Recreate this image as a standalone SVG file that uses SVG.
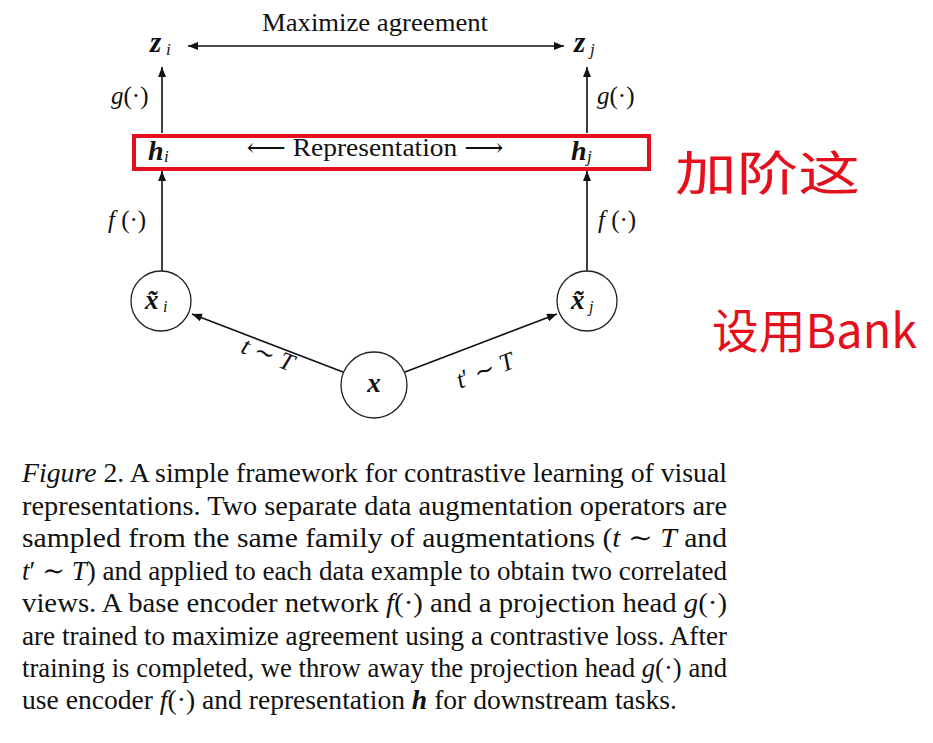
<svg xmlns="http://www.w3.org/2000/svg" width="933" height="743" viewBox="0 0 933 743">
<style>
.m{font-family:"Liberation Serif","DejaVu Serif",serif;fill:#111}
.bi{font-weight:bold;font-style:italic}
.it{font-style:italic}
.ln{stroke:#111;stroke-width:1.6;fill:none}
.nd{stroke:#222;stroke-width:1.3;fill:#fff}
.hw{font-family:"Noto Sans CJK SC","Noto Sans",sans-serif;fill:#e3101e;font-size:47px}
.cap{font-family:"Liberation Serif","DejaVu Serif",serif;fill:#111;font-size:27px}
</style>
<defs>
<marker id="ah" viewBox="0 0 10 8" refX="10" refY="4" markerWidth="10" markerHeight="8" markerUnits="userSpaceOnUse" orient="auto-start-reverse">
<path d="M0,0 L10,4 L0,8 Z" fill="#111"/>
</marker>
</defs>
<rect width="933" height="743" fill="#fff"/>

<g id="connectors">
<line class="ln" x1="188" y1="46" x2="564" y2="46" marker-start="url(#ah)" marker-end="url(#ah)"/>
<line class="ln" x1="162" y1="133" x2="162" y2="67" marker-end="url(#ah)"/>
<line class="ln" x1="587" y1="133" x2="587" y2="67" marker-end="url(#ah)"/>
<line class="ln" x1="162" y1="271" x2="162" y2="171" marker-end="url(#ah)"/>
<line class="ln" x1="587" y1="271" x2="587" y2="171" marker-end="url(#ah)"/>
<line class="ln" x1="343" y1="372" x2="192" y2="314" marker-end="url(#ah)"/>
<line class="ln" x1="405" y1="372" x2="557" y2="314" marker-end="url(#ah)"/>
<text class="m" x="111" y="104" font-size="25"><tspan class="it">g</tspan>(·)</text>
<text class="m" x="597" y="104" font-size="25"><tspan class="it">g</tspan>(·)</text>
<text class="m" x="108" y="228" font-size="25"><tspan class="it">f</tspan> (·)</text>
<text class="m" x="598" y="228" font-size="25"><tspan class="it">f</tspan> (·)</text>
<text class="m" font-size="25" transform="translate(265,362) rotate(21)" text-anchor="middle"><tspan class="it">t</tspan> ∼ <tspan class="it">T</tspan></text>
<text class="m" font-size="25" transform="translate(488,378) rotate(-21)" text-anchor="middle"><tspan class="it">t</tspan>′ ∼ <tspan class="it">T</tspan></text>
</g>

<g id="label-maximize">
<text class="m" x="375" y="31" font-size="26" text-anchor="middle" textLength="226" lengthAdjust="spacingAndGlyphs">Maximize agreement</text>
</g>

<g id="node-zi">
<text class="m bi" x="150" y="52" font-size="29">z</text>
<text class="m it" x="166" y="55" font-size="17">i</text>
</g>
<g id="node-zj">
<text class="m bi" x="574" y="52" font-size="29">z</text>
<text class="m it" x="590" y="55" font-size="17">j</text>
</g>

<g id="node-representation">
<rect x="134" y="136" width="515" height="33" fill="none" stroke="#e3101e" stroke-width="4"/>
<text class="m bi" x="148" y="160" font-size="28">h</text>
<text class="m it" x="164" y="162" font-size="17">i</text>
<text class="m bi" x="571" y="160" font-size="28">h</text>
<text class="m it" x="587" y="162" font-size="17">j</text>
<text class="m" x="375" y="156" font-size="25" text-anchor="middle" textLength="257" lengthAdjust="spacingAndGlyphs">⟵ Representation ⟶</text>
</g>

<g id="node-xi">
<circle class="nd" cx="161" cy="301" r="30"/>
<text class="m bi" x="145" y="309" font-size="27">x̃</text>
<text class="m it" x="163" y="312" font-size="16">i</text>
</g>
<g id="node-xj">
<circle class="nd" cx="587" cy="301" r="30"/>
<text class="m bi" x="571" y="309" font-size="27">x̃</text>
<text class="m it" x="589" y="312" font-size="16">j</text>
</g>
<g id="node-x">
<circle class="nd" cx="374" cy="385" r="33"/>
<text class="m bi" x="374" y="392" font-size="27" text-anchor="middle">x</text>
</g>

<g id="handwriting">
<text class="hw" x="675" y="190" font-size="54" textLength="185" lengthAdjust="spacingAndGlyphs">加阶这</text>
<text class="hw" x="712" y="348" textLength="205" lengthAdjust="spacingAndGlyphs">设用Bank</text>
</g>

<g id="caption">
<text class="cap" x="22" y="482" textLength="705" lengthAdjust="spacingAndGlyphs"><tspan class="it">Figure</tspan> 2. A simple framework for contrastive learning of visual</text>
<text class="cap" x="22" y="515" textLength="705" lengthAdjust="spacingAndGlyphs">representations.  Two separate data augmentation operators are</text>
<text class="cap" x="22" y="547" textLength="705" lengthAdjust="spacingAndGlyphs">sampled from the same family of augmentations (<tspan class="it">t</tspan> ∼ <tspan class="it">T</tspan> and</text>
<text class="cap" x="22" y="580" textLength="705" lengthAdjust="spacingAndGlyphs"><tspan class="it">t</tspan>′ ∼ <tspan class="it">T</tspan>) and applied to each data example to obtain two correlated</text>
<text class="cap" x="22" y="612" textLength="705" lengthAdjust="spacingAndGlyphs">views.  A base encoder network <tspan class="it">f</tspan>(·) and a projection head <tspan class="it">g</tspan>(·)</text>
<text class="cap" x="22" y="645" textLength="705" lengthAdjust="spacingAndGlyphs">are trained to maximize agreement using a contrastive loss. After</text>
<text class="cap" x="22" y="677" textLength="705" lengthAdjust="spacingAndGlyphs">training is completed, we throw away the projection head <tspan class="it">g</tspan>(·) and</text>
<text class="cap" x="22" y="709" textLength="655" lengthAdjust="spacingAndGlyphs">use encoder <tspan class="it">f</tspan>(·) and representation <tspan class="bi">h</tspan> for downstream tasks.</text>
</g>
</svg>
